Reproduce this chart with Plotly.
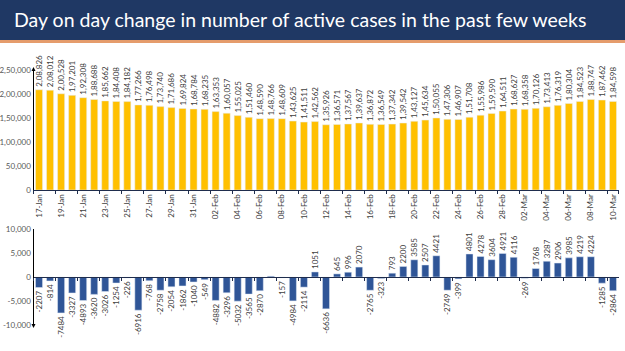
import plotly.graph_objects as go
import pandas as pd

dates = list(pd.date_range("2021-01-17", "2021-03-10").strftime("%d-%b"))

active_cases = [208826, 208012, 200528, 197201, 192308, 188688, 185662, 184408, 184182,
                177266, 176498, 173740, 171686, 169824, 168784, 168235, 163353, 160057,
                155025, 151460, 148590, 148766, 148609, 143625, 141511, 142562, 135926,
                136571, 137567, 139637, 136872, 136549, 137342, 139542, 143127, 145634,
                150055, 147306, 146907, 151708, 155986, 159590, 164511, 168627, 168358,
                170126, 173413, 176319, 180304, 184523, 188747, 187462, 184598]

daily_change = [-2207, -814, -7484, -3327, -4893, -3620, -3026, -1254, -226, -6916, -768,
                -2758, -2054, -1862, -1040, -549, -4882, -3296, -5032, -3565, -2870, 176,
                -157, -4984, -2114, 1051, -6636, 645, 996, 2070, -2765, -323, 793, 2200,
                3585, 2507, 4421, -2749, -399, 4801, 4278, 3604, 4921, 4116, -269, 1768,
                3287, 2906, 3985, 4219, 4224, -1285, -2864]
hidden_change_labels = [176]

top_ticks = [0, 50000, 100000, 150000, 200000, 250000]
bottom_ticks = [-10000, -5000, 0, 5000, 10000]
title_text = "Day on day change in number of active cases in the past few weeks"


def inr(v):
    neg = v < 0
    s = str(abs(int(v)))
    if len(s) > 3:
        last3 = s[-3:]
        rest = s[:-3]
        groups = []
        while len(rest) > 2:
            groups.insert(0, rest[-2:])
            rest = rest[:-2]
        if rest:
            groups.insert(0, rest)
        s = ",".join(groups + [last3])
    return ("-" if neg else "") + s


def western(v):
    return f"{v:,}"


W, H = 625, 351
FONT = "Lato, Open Sans, sans-serif"
LABEL_COL = "#404040"

x0, x1 = 33.5 / W, 618.5 / W
top_dom = [1 - 190 / H, 1 - 70 / H]
bot_dom = [1 - 325 / H, 1 - 229 / H]
zero_pos = (bot_dom[0] + bot_dom[1]) / 2

fig = go.Figure()

fig.add_trace(go.Bar(
    x=dates, y=active_cases, marker_color="#FFC000",
    text=[inr(v) for v in active_cases], textposition="outside", textangle=-90,
    textfont=dict(size=8, color=LABEL_COL, family=FONT), cliponaxis=False,
    constraintext="none", xaxis="x", yaxis="y", showlegend=False,
))

fig.add_trace(go.Bar(
    x=dates, y=daily_change, marker_color="#2F5597",
    text=["" if v in hidden_change_labels else str(v) for v in daily_change],
    textposition="outside", textangle=-90,
    textfont=dict(size=8, color=LABEL_COL, family=FONT), cliponaxis=False,
    constraintext="none", xaxis="x2", yaxis="y2", showlegend=False,
))

fig.update_layout(
    width=W, height=H,
    margin=dict(l=0, r=0, t=0, b=0),
    paper_bgcolor="white", plot_bgcolor="rgba(0,0,0,0)",
    bargap=0.36,
    font=dict(family=FONT, size=8, color=LABEL_COL),
    xaxis=dict(domain=[x0, x1], anchor="y", type="category", categoryorder="array",
               categoryarray=dates, tickvals=dates[::2], ticktext=dates[::2],
               tickangle=-90, tickfont=dict(size=8, color=LABEL_COL),
               showline=True, linecolor="#1f2d4d", linewidth=1,
               ticks="outside", ticklen=3, tickcolor="#1f2d4d", tickson="boundaries",
               showgrid=False, automargin=False),
    yaxis=dict(domain=top_dom, anchor="x", range=[0, 250000], tickvals=top_ticks,
               ticktext=[inr(v) for v in top_ticks], tickfont=dict(size=8, color="#595959"),
               showline=True, linecolor="black", linewidth=1, showgrid=False,
               zeroline=False, ticks="", automargin=False),
    xaxis2=dict(domain=[x0, x1], anchor="free", position=zero_pos, type="category",
                categoryorder="array", categoryarray=dates, showticklabels=False,
                showline=True, linecolor="#1f2d4d", linewidth=1,
                ticks="outside", ticklen=3, tickcolor="#1f2d4d", tickson="boundaries",
                showgrid=False, automargin=False),
    yaxis2=dict(domain=bot_dom, anchor="x2", range=[-10000, 10000], tickvals=bottom_ticks,
                ticktext=[western(v) for v in bottom_ticks], tickfont=dict(size=8, color="#595959"),
                showline=True, linecolor="black", linewidth=1, showgrid=False,
                zeroline=False, ticks="", automargin=False),
)

# Title banner
fig.add_shape(type="rect", xref="paper", yref="paper", x0=0, x1=1, y0=1 - 40 / H, y1=1,
              fillcolor="#1F3864", line_width=0, layer="below")
fig.add_shape(type="rect", xref="paper", yref="paper", x0=0, x1=1, y0=1 - 43 / H, y1=1 - 40 / H,
              fillcolor="#E59C6C", line_width=0, layer="below")
fig.add_annotation(text=title_text, xref="paper", yref="paper", x=12 / W, y=1 - 20 / H,
                   xanchor="left", yanchor="middle", showarrow=False,
                   font=dict(family=FONT, size=19.5, color="white"))

# Axis arrowheads
fig.add_annotation(x=x0, y=top_dom[1] + 3 / H, ax=0, ay=8, xref="paper", yref="paper",
                   text="", showarrow=True, arrowhead=2, arrowsize=0.8, arrowwidth=1,
                   arrowcolor="black")
fig.add_annotation(x=x0, y=bot_dom[0] - 3 / H, ax=0, ay=-8, xref="paper", yref="paper",
                   text="", showarrow=True, arrowhead=2, arrowsize=0.8, arrowwidth=1,
                   arrowcolor="black")

fig.write_html("out.html")
